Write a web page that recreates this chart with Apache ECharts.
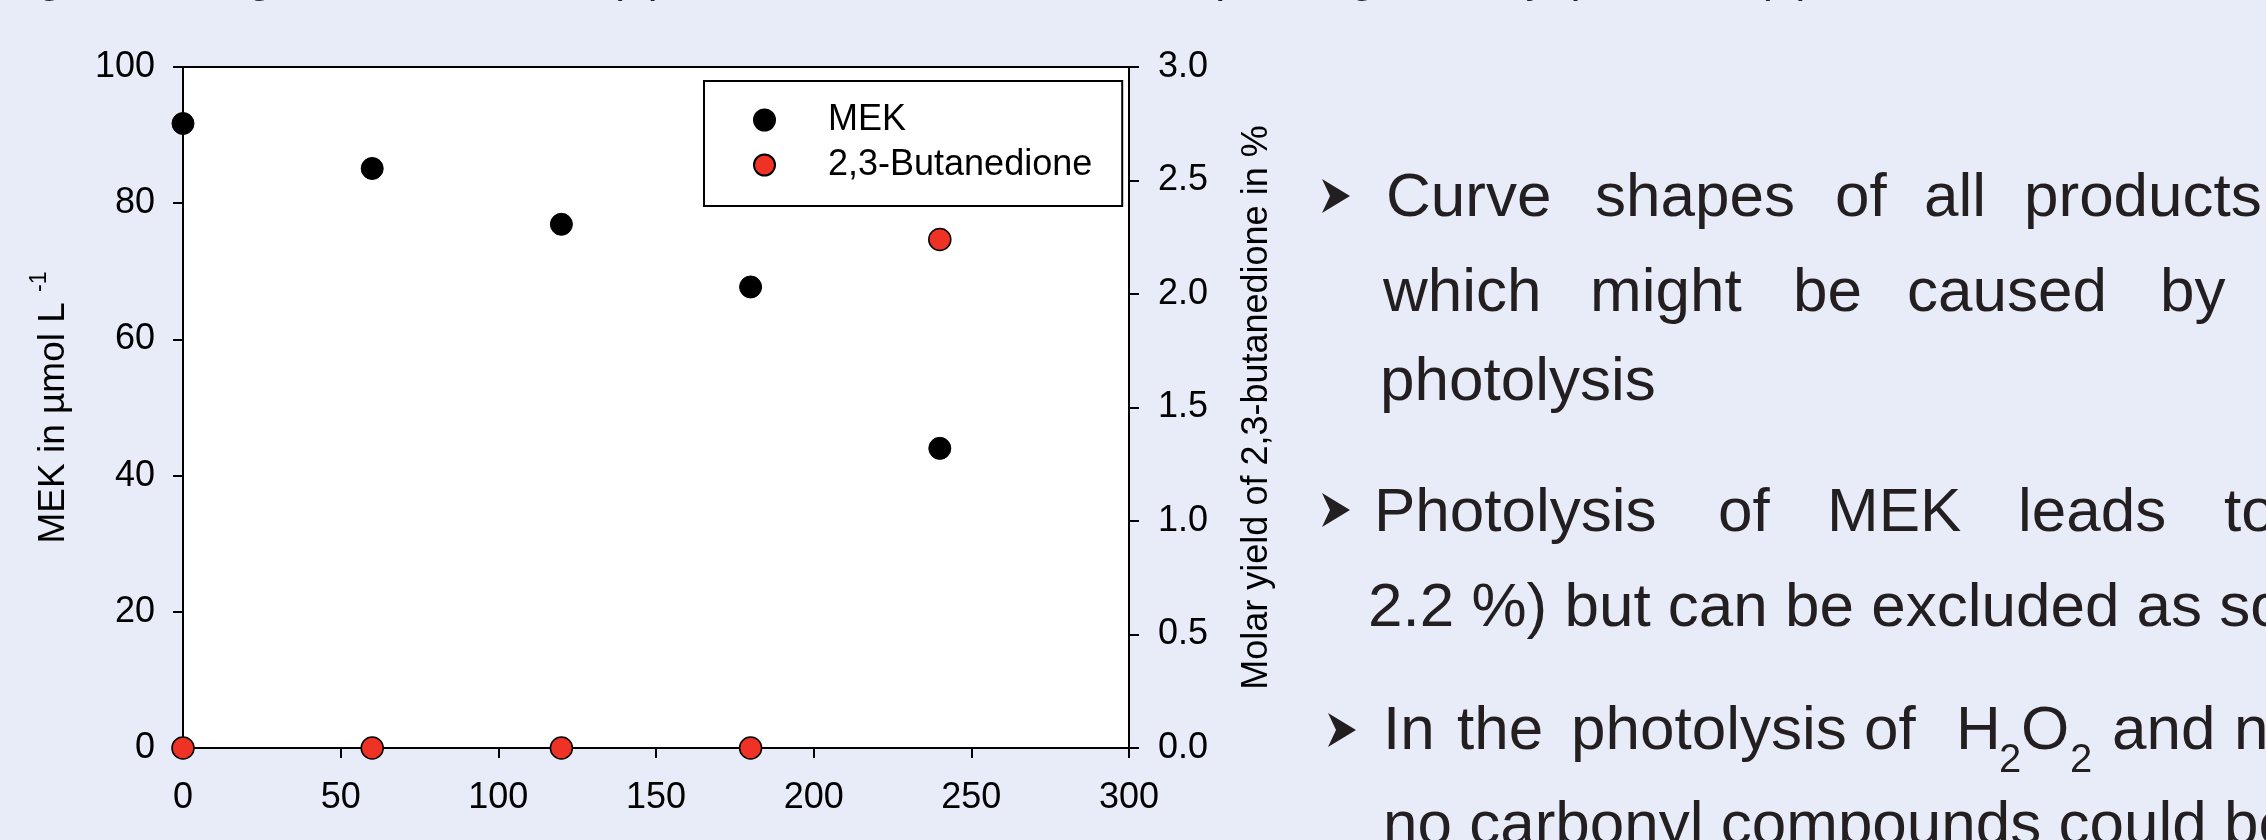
<!DOCTYPE html>
<html><head><meta charset="utf-8">
<script src="https://cdn.jsdelivr.net/npm/echarts@6/dist/echarts.min.js"></script>
<style>html,body{margin:0;padding:0;background:#e8ecf8;}#c{width:2266px;height:840px;}</style>
</head><body><div id="c"></div>
<script>
// ---- data ----
const timeMin = [0, 60, 120, 180, 240];
const mekValues = [91.7, 85.1, 76.9, 67.7, 44.0];
const butanedioneValues = [0, 0, 0, 0, 2.24];
const seriesNames = ['MEK', '2,3-Butanedione'];
const xTicks = [0, 50, 100, 150, 200, 250, 300];
const leftTicks = [0, 20, 40, 60, 80, 100];
const rightTicks = ['0.0', '0.5', '1.0', '1.5', '2.0', '2.5', '3.0'];
const leftTitle = 'MEK in µmol L {sup|-1}';
const rightTitle = 'Molar yield of 2,3-butanedione in %';
const caption = 'Figure 5: Degradation of MEK (●) and the formation of corresponding carbonyl products (●)';

// ---- style/layout ----
const FONT = '"Liberation Sans", Arial, Helvetica, sans-serif';
const TXT = '#231f20';
const axisCommon = {
  axisLine: {show: true, onZero: false, lineStyle: {color: '#000', width: 2}},
  axisTick: {show: true, inside: false, length: 10, lineStyle: {color: '#000', width: 2}},
  splitLine: {show: false},
  axisLabel: {color: '#000', fontSize: 36, fontFamily: FONT}
};

// right-hand slide text (decoration)
const bodyFs = 62;
const textLines = [
  {base: 220, words: [['Curve',1386],['shapes',1595],['of',1835],['all',1924],['products',2024]]},
  {base: 315, words: [['which',1383],['might',1590],['be',1793],['caused',1907],['by',2160]]},
  {base: 404, words: [['photolysis',1380]]},
  {base: 535, words: [['Photolysis',1374],['of',1718],['MEK',1827],['leads',2018],['to',2224]]},
  {base: 630, words: [['2.2 %) but can be excluded as source',1368]]},
  {base: 753, words: [['In',1383],['the',1457],['photolysis',1571],['of',1864],['H',1956],['O',2021],['and',2112],['n',2234]]},
  {base: 848, words: [['no carbonyl compounds could be',1383]]}
];
const subs = [['2',1999,775],['2',2070,775]];
const arrows = [[1322,196],[1322,510],[1328,730]];

const graphic = [];
graphic.push({type:'text', silent: true,
  style:{text: caption, x: 0, y: -0.3465*45 - 5, font: '45px ' + FONT, fill: TXT, verticalAlign:'middle', align:'left'}});
textLines.forEach(l => l.words.forEach(w => {
  graphic.push({type:'text', silent:true, style:{text:w[0], x:w[1], y:l.base - 0.3465*bodyFs,
    font: bodyFs + 'px ' + FONT, fill: TXT, verticalAlign:'middle', align:'left'}});
}));
subs.forEach(s => graphic.push({type:'text', silent:true, style:{text:s[0], x:s[1], y:s[2]-0.3465*40,
  font:'40px ' + FONT, fill: TXT, verticalAlign:'middle', align:'left'}}));
arrows.forEach(a => graphic.push({type:'polygon', silent:true,
  shape:{points:[[a[0],a[1]-17],[a[0]+28,a[1]],[a[0],a[1]+17],[a[0]+8,a[1]]]},
  style:{fill: TXT}}));

const chart = echarts.init(document.getElementById('c'), null, {renderer:'canvas'});
chart.setOption({
  backgroundColor: '#e8ecf8',
  animation: false,
  textStyle: {fontFamily: FONT},
  grid: {left: 183, right: 2266 - 1129, top: 67, bottom: 840 - 748, show: true,
         backgroundColor: '#ffffff', borderWidth: 0, containLabel: false},
  legend: {
    data: seriesNames, orient: 'vertical', left: 704, top: 81,
    itemWidth: 21, itemHeight: 21, itemGap: 9,
    padding: [21, 30, 23, 49],
    backgroundColor: '#ffffff', borderColor: '#000', borderWidth: 2, borderRadius: 0,
    textStyle: {fontSize: 36, color: '#000', fontFamily: FONT, padding: [0, 0, 0, 48]},
    selectedMode: false
  },
  xAxis: [
    Object.assign({}, axisCommon, {type: 'value', position: 'bottom', min: xTicks[0], max: xTicks[xTicks.length-1], interval: 50,
      axisLabel: Object.assign({}, axisCommon.axisLabel, {margin: 32})}),
    {type: 'value', position: 'top', min: xTicks[0], max: xTicks[xTicks.length-1], interval: 50,
      axisLine: {show: true, onZero: false, lineStyle: {color: '#000', width: 2}}, axisTick: {show: false},
      axisLabel: {show: false}, splitLine: {show: false}}
  ],
  yAxis: [
    Object.assign({}, axisCommon, {type: 'value', position: 'left', min: leftTicks[0], max: leftTicks[leftTicks.length-1], interval: 20,
      axisLabel: Object.assign({}, axisCommon.axisLabel, {margin: 28}),
      name: leftTitle, nameLocation: 'middle', nameRotate: 90, nameGap: 103,
      nameTextStyle: {fontSize: 37, color: '#000', fontFamily: FONT, lineHeight: 52,
        rich: {sup: {fontSize: 23, fontFamily: FONT, color: '#000', verticalAlign: 'top', lineHeight: 23}}}}),
    Object.assign({}, axisCommon, {type: 'value', position: 'right', min: 0, max: 3, interval: 0.5,
      axisLabel: Object.assign({}, axisCommon.axisLabel, {margin: 29, formatter: v => rightTicks[Math.round(v/0.5)]}),
      name: rightTitle, nameLocation: 'middle', nameRotate: 90, nameGap: 110,
      nameTextStyle: {fontSize: 36, color: '#000', fontFamily: FONT}})
  ],
  series: [
    {name: seriesNames[0], type: 'scatter', xAxisIndex: 0, yAxisIndex: 0, symbol: 'circle', symbolSize: 22, z: 5, clip: false,
     itemStyle: {color: '#000000', borderColor: '#000', borderWidth: 1, opacity: 1},
     data: timeMin.map((t,i) => [t, mekValues[i]])},
    {name: seriesNames[1], type: 'scatter', xAxisIndex: 0, yAxisIndex: 1, symbol: 'circle', symbolSize: 22, z: 5, clip: false,
     itemStyle: {color: '#ee3226', borderColor: '#000', borderWidth: 1.5, opacity: 1},
     data: timeMin.map((t,i) => [t, butanedioneValues[i]])}
  ],
  graphic: graphic
});
</script></body></html>
